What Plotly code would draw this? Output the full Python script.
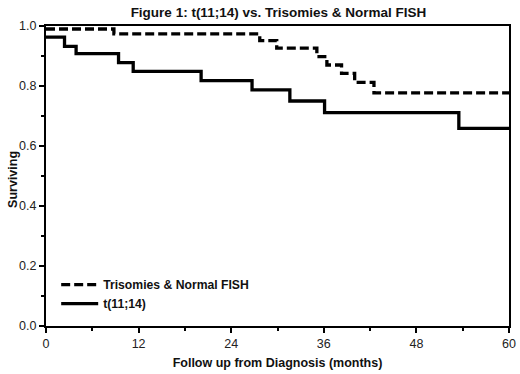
import plotly.graph_objects as go

# Kaplan-Meier step data (months, survival)
tri_times = [0, 8.8, 27.7, 29.9, 35.1, 36.4, 38.3, 40.0, 42.5, 60]
tri_surv = [0.99, 0.974, 0.951, 0.926, 0.898, 0.870, 0.842, 0.812, 0.777, 0.777]

t1114_times = [0, 2.4, 3.9, 9.4, 11.3, 20.1, 26.7, 31.6, 36.1, 53.5, 60]
t1114_surv = [0.963, 0.932, 0.908, 0.878, 0.849, 0.818, 0.787, 0.750, 0.711, 0.659, 0.659]

x_ticks = [0, 12, 24, 36, 48, 60]
y_ticks = [0.0, 0.2, 0.4, 0.6, 0.8, 1.0]

FONT = "Liberation Sans, Arial, sans-serif"

fig = go.Figure()
fig.add_trace(go.Scatter(
    x=tri_times, y=tri_surv, mode="lines", line_shape="hv",
    name="<b>Trisomies & Normal FISH</b>",
    line=dict(color="black", width=3.3, dash="9px,4px"),
))
fig.add_trace(go.Scatter(
    x=t1114_times, y=t1114_surv, mode="lines", line_shape="hv",
    name="<b>t(11;14)</b>",
    line=dict(color="black", width=3.3),
))

fig.update_layout(
    width=520, height=374,
    margin=dict(l=46, r=11, t=26, b=48),
    paper_bgcolor="white", plot_bgcolor="white",
    font=dict(family=FONT, size=12.5, color="#222"),
    title=dict(text="<b>Figure 1: t(11;14) vs. Trisomies & Normal FISH</b>",
               x=0.502, xanchor="center", xref="paper",
               y=1 - 12.5 / 374, yanchor="middle", yref="container",
               font=dict(size=13.5, color="#111")),
    showlegend=True,
    legend=dict(x=0.022, y=0.186, xanchor="left", yanchor="top",
                bgcolor="rgba(0,0,0,0)", font=dict(size=12.2, color="#111"),
                itemwidth=37),
    annotations=[dict(
        text="<b>Surviving</b>", textangle=-90, showarrow=False,
        xref="paper", yref="paper", x=0, y=0.487, xanchor="center",
        yanchor="middle", xshift=-33, font=dict(size=12.5, color="#111"),
    )],
)
fig.update_xaxes(
    range=[0, 60], tickvals=x_ticks, ticks="outside", ticklen=5, tickwidth=2,
    tickcolor="black", showline=True, linecolor="black", linewidth=2,
    mirror=True, showgrid=False, zeroline=False, automargin=False,
    minor=dict(ticks="outside", ticklen=3, tickwidth=2, dtick=6, tickcolor="black"),
    title=dict(text="<b>Follow up from Diagnosis (months)</b>", standoff=8,
               font=dict(size=12.5, color="#111")),
)
fig.update_yaxes(
    range=[0, 1.0], tickvals=y_ticks, tickformat=".1f", ticks="outside",
    ticklen=5, tickwidth=2, tickcolor="black", showline=True, linecolor="black",
    linewidth=2, mirror=True, showgrid=False, zeroline=False, automargin=False,
    minor=dict(ticks="outside", ticklen=3, tickwidth=2, dtick=0.1, tickcolor="black"),
)

fig.write_html("out.html", config={"displayModeBar": False},
               post_script="document.body.style.margin='0';document.body.style.overflow='hidden';")
